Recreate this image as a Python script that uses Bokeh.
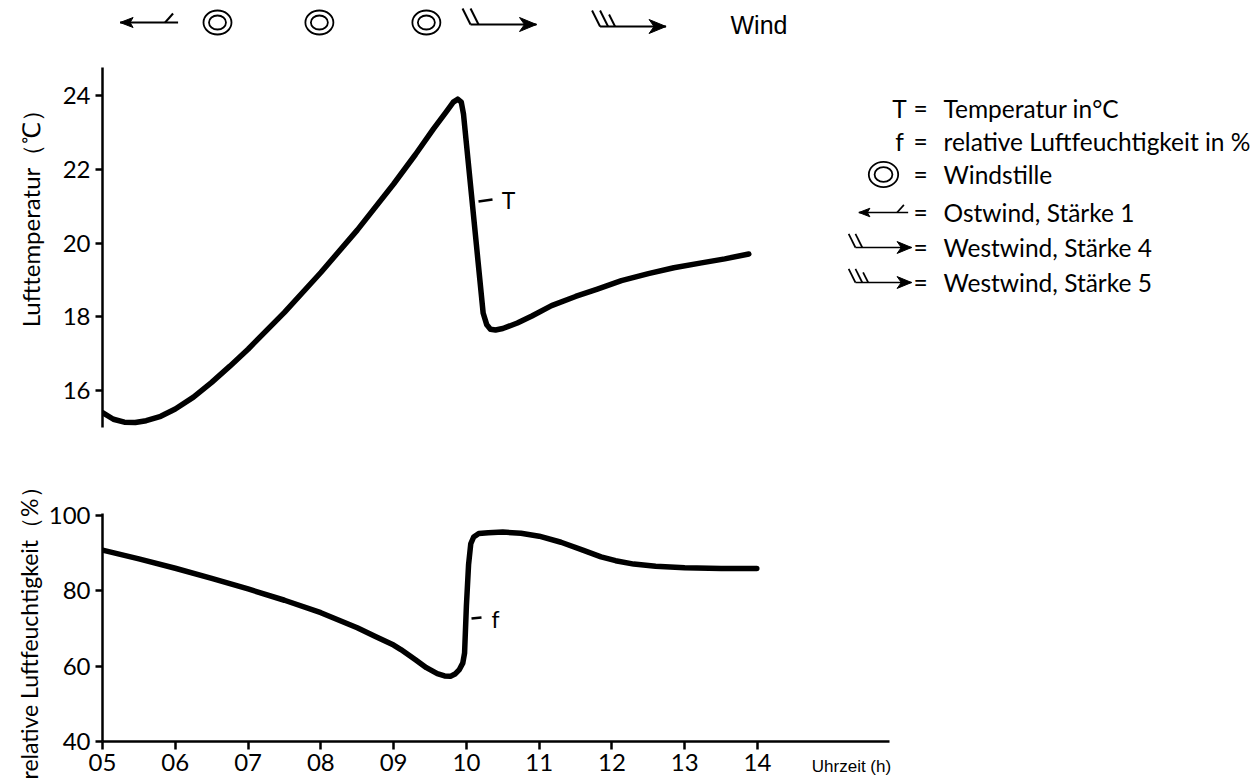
from math import pi
from bokeh.plotting import figure
from bokeh.layouts import column, row
from bokeh.models import Range1d, Label, FixedTicker, LinearAxis
from bokeh.embed import file_html
from bokeh.resources import INLINE

# ---------------- data ----------------
hours_T = [5.00, 5.15, 5.30, 5.45, 5.60, 5.80, 6.00, 6.25, 6.50, 6.75, 7.00, 7.50, 8.00,
           8.50, 9.00, 9.30, 9.55, 9.72, 9.82, 9.88, 9.93, 9.96, 10.00, 10.07, 10.16,
           10.23, 10.28, 10.33, 10.40, 10.50, 10.70, 10.90, 11.17, 11.50, 11.80, 12.13,
           12.50, 12.85, 13.23, 13.55, 13.88]
temp_T = [15.40, 15.22, 15.14, 15.13, 15.18, 15.30, 15.50, 15.82, 16.22, 16.66, 17.12, 18.12,
          19.20, 20.35, 21.60, 22.40, 23.10, 23.55, 23.82, 23.90, 23.82, 23.50, 22.70, 21.30,
          19.50, 18.10, 17.78, 17.66, 17.64, 17.68, 17.83, 18.02, 18.30, 18.55, 18.75, 18.98,
          19.17, 19.33, 19.46, 19.57, 19.70]

hours_f = [5.00, 5.50, 6.00, 6.50, 7.00, 7.50, 8.00, 8.50, 8.75, 9.00, 9.10, 9.30, 9.45,
           9.60, 9.70, 9.78, 9.85, 9.90, 9.95, 9.975, 10.00, 10.03, 10.06, 10.10, 10.17,
           10.30, 10.50, 10.75, 11.00, 11.30, 11.60, 11.85, 12.05, 12.30, 12.60, 13.00,
           13.50, 13.99]
hum_f = [90.8, 88.5, 86.0, 83.3, 80.5, 77.5, 74.2, 70.2, 67.9, 65.6, 64.4, 61.7, 59.6,
         58.0, 57.4, 57.3, 58.0, 59.0, 60.8, 63.5, 76.0, 87.0, 92.5, 94.3, 95.2,
         95.4, 95.6, 95.3, 94.5, 92.9, 90.8, 89.0, 88.0, 87.1, 86.5, 86.1,
         85.9, 85.9]

x_ticks = [5, 6, 7, 8, 9, 10, 11, 12, 13, 14]
x_tick_labels = ["05", "06", "07", "08", "09", "10", "11", "12", "13", "14"]
x_title = "Uhrzeit (h)"
T_ticks = [16, 18, 20, 22, 24]
f_ticks = [40, 60, 80, 100]

wind_time = [5.64, 6.58, 7.98, 9.45, 10.51, 12.29]
wind_kind = ["E1", "calm", "calm", "calm", "W4", "W5"]

legend_keys = ["T", "f", "calm", "E1", "W4", "W5"]
legend_texts = ["Temperatur in°C", "relative Luftfeuchtigkeit in %", "Windstille",
                "Ostwind, Stärke 1", "Westwind, Stärke 4", "Westwind, Stärke 5"]

# ---------------- layout constants (screen px) ----------------
FONT = "Lato"
LABEL_W = 45         # narrow column holding the two y-axis titles
PX0 = 101            # frame left (page px)
X0 = 5.0
PX_PER_H = 72.78
FRAME_R_FULL = 1250
FRAME_R_HUM = 888
TOTAL_W = 1258
TOTAL_H = 783


def hx(px):
    return X0 + (px - PX0) / PX_PER_H


def ty(py):   # temperature fig: screen y -> degC
    return 24 - (py - 95) / 36.875


def fy(py):   # humidity fig: screen y -> %
    return 100 - (py - 515) / 3.7667


def wy(py):   # wind strip: identity (flipped range)
    return py


x_full = Range1d(X0, hx(FRAME_R_FULL))
x_hum = Range1d(X0, hx(FRAME_R_HUM))


def base_fig(x_range, y_range, top, fh, bottom, frame_r, xaxis, yaxis):
    p = figure(x_range=x_range, y_range=y_range, frame_width=frame_r - PX0,
               frame_height=fh, min_border_left=PX0 - LABEL_W, min_border_right=TOTAL_W - frame_r,
               min_border_top=top, min_border_bottom=bottom,
               output_backend="svg", toolbar_location=None,
               x_axis_location="below" if xaxis else None,
               y_axis_location="left" if yaxis else None)
    p.outline_line_color = None
    p.xgrid.visible = False
    p.ygrid.visible = False
    p.background_fill_color = "white"
    p.border_fill_color = "white"
    return p


def style_axis(ax, ticks):
    ax.ticker = FixedTicker(ticks=ticks)
    ax.axis_line_width = 2.5
    ax.axis_line_color = "black"
    ax.major_tick_line_width = 2.5
    ax.major_tick_line_color = "black"
    ax.major_tick_out = 7
    ax.major_tick_in = 0
    ax.minor_tick_line_color = None
    ax.major_label_text_font = FONT
    ax.major_label_text_font_size = "24px"
    ax.major_label_text_color = "black"


def draw_symbol(p, kind, cx_h, cy_px, to_y, s=1.0):
    lw = 2.0 * s
    if kind == "calm":
        for w, h in ((28, 24), (17, 14)):
            p.ellipse(x=[cx_h], y=[to_y(cy_px)], width=w * s, height=h * s,
                      width_units="screen", height_units="screen",
                      fill_color=None, line_color="black", line_width=1.8)
        return
    if kind == "E1":
        half = 29
        segs = [(-half, 0, half, 0), (16, 0, 24, -9)]
        head = [(-half, 0), (-half + 13, -5), (-half + 10, 0), (-half + 13, 5)]
    else:
        half = 33
        segs = [(-half, 0, half, 0), (-half, 0, -half - 8, -16), (-half + 8, 0, -half, -16)]
        if kind == "W5":
            segs.append((-half + 15, 0, -half + 9, -12))
        head = [(half, 0), (half - 17, -7), (half - 12, 0), (half - 17, 7)]
    p.segment(x0=[cx_h + a * s / PX_PER_H for a, b, c, d in segs],
              y0=[to_y(cy_px + b * s) for a, b, c, d in segs],
              x1=[cx_h + c * s / PX_PER_H for a, b, c, d in segs],
              y1=[to_y(cy_px + d * s) for a, b, c, d in segs],
              line_color="black", line_width=lw)
    p.patch(x=[cx_h + a * s / PX_PER_H for a, b in head],
            y=[to_y(cy_px + b * s) for a, b in head],
            fill_color="black", line_color="black", line_width=1)


# ---------------- y-axis title column ----------------
pl = figure(x_range=Range1d(0, LABEL_W), y_range=Range1d(TOTAL_H, 0),
            frame_width=LABEL_W, frame_height=TOTAL_H, min_border=0,
            output_backend="svg", toolbar_location=None,
            x_axis_location=None, y_axis_location=None)
pl.outline_line_color = None
pl.xgrid.visible = False
pl.ygrid.visible = False
pl.add_layout(Label(x=30, y=212, text="Lufttemperatur（℃）", angle=pi / 2,
                    text_align="center", text_baseline="middle",
                    text_font=FONT, text_font_size="24px", text_color="black"))
pl.add_layout(Label(x=28, y=627, text="relative Luftfeuchtigkeit（%）", angle=pi / 2,
                    text_align="center", text_baseline="middle",
                    text_font=FONT, text_font_size="23px", text_color="black"))

# ---------------- wind strip ----------------
pw = base_fig(x_full, Range1d(50, 0), 0, 50, 0, FRAME_R_FULL, False, False)
WIND_Y = {"calm": 22, "E1": 22, "W4": 24, "W5": 26}
for t, k in zip(wind_time, wind_kind):
    draw_symbol(pw, k, t, WIND_Y[k], wy)
pw.add_layout(Label(x=hx(729), y=24, text="Wind", text_align="left", text_baseline="middle",
                    text_font="Liberation Sans", text_font_size="25px", text_color="black"))

# ---------------- temperature ----------------
pt = base_fig(x_full, Range1d(ty(427), ty(67)), 17, 360, 13, FRAME_R_FULL, False, True)
style_axis(pt.yaxis[0], T_ticks)
pt.yaxis[0].major_label_standoff = 5
pt.line(hours_T, temp_T, line_width=5.5, line_color="black", line_join="round", line_cap="round")
pt.segment(x0=[hx(477)], y0=[ty(201)], x1=[hx(491)], y1=[ty(199)], line_color="black", line_width=2.5)
pt.add_layout(Label(x=hx(507), y=ty(199), text="T", text_align="center", text_baseline="middle",
                    text_font=FONT, text_font_size="23px", text_color="black"))

# legend
ROW_Y = [108, 141, 174, 212, 247, 282]
for key, txt, ry in zip(legend_keys, legend_texts, ROW_Y):
    if key in ("T", "f"):
        pt.add_layout(Label(x=hx(898), y=ty(ry), text=key, text_align="center", text_baseline="middle",
                            text_font=FONT, text_font_size="24.5px", text_color="black"))
    else:
        draw_symbol(pt, key, hx(882), ry, ty, s=0.85 if key != "calm" else 1.05)
    pt.add_layout(Label(x=hx(919), y=ty(ry), text="=", text_align="center", text_baseline="middle",
                        text_font=FONT, text_font_size="24.5px", text_color="black"))
    pt.add_layout(Label(x=hx(942), y=ty(ry), text=txt, text_align="left", text_baseline="middle",
                        text_font=FONT, text_font_size="24.5px", text_color="black"))

# ---------------- humidity ----------------
ph = base_fig(x_hum, Range1d(40, fy(513)), 73, 228, 42, FRAME_R_HUM, True, True)
style_axis(ph.yaxis[0], f_ticks)
ph.yaxis[0].major_label_standoff = 5
xa = ph.xaxis[0]
style_axis(xa, x_ticks)
xa.major_tick_out = 8
xa.major_label_standoff = 4

xa.major_label_overrides = {t: s for t, s in zip(x_ticks, x_tick_labels)}

# "Uhrzeit (h)" as the only label of a second, line-less axis pulled up into the tick-label row
x_title_pos = round(hx(850), 3)
xt = LinearAxis(ticker=FixedTicker(ticks=[x_title_pos]),
                major_label_overrides={x_title_pos: x_title},
                axis_line_color=None, major_tick_line_color=None, minor_tick_line_color=None,
                major_tick_out=0, major_tick_in=0, major_label_standoff=-17,
                major_label_text_font="Liberation Sans", major_label_text_font_size="17px",
                major_label_text_color="black")
ph.add_layout(xt, "below")

ph.line(hours_f, hum_f, line_width=5.5, line_color="black", line_join="round", line_cap="round")
ph.segment(x0=[hx(470)], y0=[fy(618)], x1=[hx(480)], y1=[fy(617)], line_color="black", line_width=2.5)
ph.add_layout(Label(x=hx(494), y=fy(619), text="f", text_align="center", text_baseline="middle",
                    text_font=FONT, text_font_size="23px", text_color="black"))

layout = row(pl, column(pw, pt, ph, spacing=0), spacing=0)
open("out.html", "w").write(file_html(layout, INLINE))
